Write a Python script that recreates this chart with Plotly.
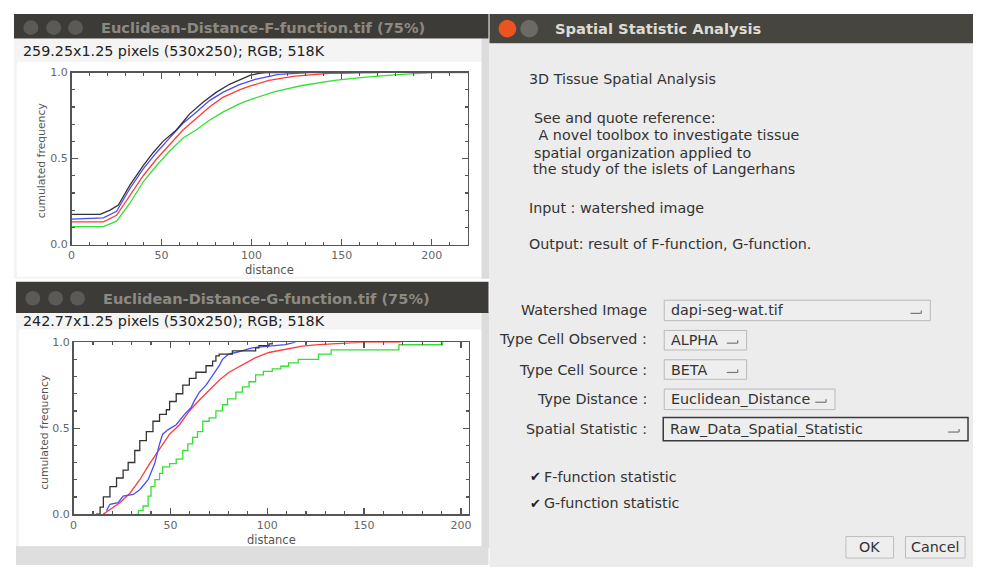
import plotly.graph_objects as go

# ---------------- data ----------------
# F-function (top plot)
f_black_x = [0, 15.8, 21.4, 26, 32.4, 39.8, 45.3, 50.8, 58.2, 65.6, 73, 80.3, 87.7, 93.2, 99.4, 104, 108, 115]
f_black_y = [0.175, 0.175, 0.20, 0.23, 0.345, 0.459, 0.534, 0.60, 0.666, 0.76, 0.828, 0.885, 0.932, 0.955, 0.985, 0.995, 1.0, 1.0]
f_blue_x = [0, 17.7, 25, 32.4, 39.8, 47.1, 54.5, 61.9, 69.2, 76.6, 84, 93.2, 102, 115, 132, 156]
f_blue_y = [0.148, 0.155, 0.193, 0.326, 0.44, 0.534, 0.62, 0.705, 0.77, 0.837, 0.885, 0.93, 0.96, 0.99, 1.0, 1.0]
f_red_x = [0, 17.7, 25, 32.4, 39.8, 47.1, 54.5, 61.9, 69.2, 76.6, 84, 93.2, 98.5, 109.6, 124, 143, 171]
f_red_y = [0.132, 0.132, 0.17, 0.288, 0.40, 0.496, 0.58, 0.666, 0.733, 0.80, 0.856, 0.90, 0.92, 0.955, 0.98, 0.996, 1.0]
f_green_x = [0, 17.7, 25, 32.4, 39.8, 47.1, 54.5, 61.9, 69.2, 76.6, 84, 93.2, 98.5, 113, 128, 146, 165, 183, 202, 220]
f_green_y = [0.104, 0.104, 0.136, 0.24, 0.364, 0.458, 0.544, 0.62, 0.666, 0.723, 0.77, 0.818, 0.84, 0.89, 0.925, 0.955, 0.975, 0.99, 1.0, 1.0]

# G-function (bottom plot)
g_black_x = [11.6, 13.7, 15.4, 18.8, 22.2, 25.6, 28.2, 31.6, 34.2, 37.6, 41, 44.4, 47.9, 49.6, 53, 56.4,
             59.8, 63.2, 68.4, 71.8, 73.5, 75.2, 82, 94, 95.7, 100.9, 102.6]
g_black_y = [0.0, 0.04, 0.10, 0.16, 0.21, 0.256, 0.30, 0.37, 0.427, 0.48, 0.54, 0.58, 0.607, 0.655, 0.70, 0.75,
             0.79, 0.825, 0.863, 0.89, 0.92, 0.93, 0.95, 0.967, 0.98, 0.99, 1.0]
g_blue_x = [17, 18.8, 23, 25.6, 30.8, 34.2, 38.5, 41.9, 44.4, 46, 48.7, 53, 57.3, 60.7, 62.4, 65, 68.4,
            71.8, 75.2, 76.9, 80, 83.8, 92.3, 100.9, 109.4, 114.5]
g_blue_y = [0.02, 0.057, 0.066, 0.104, 0.114, 0.142, 0.20, 0.294, 0.408, 0.465, 0.49, 0.52, 0.58, 0.62, 0.66,
            0.71, 0.75, 0.806, 0.863, 0.90, 0.93, 0.94, 0.967, 0.977, 0.986, 1.0]
g_red_x = [15.4, 18.8, 23.9, 29, 34.2, 39.3, 44.4, 49.6, 54.7, 59.8, 65, 70, 75.2, 80.3, 87.2, 94, 100.9,
           109.4, 118, 126.5, 138.5, 150, 169]
g_red_y = [0.0, 0.028, 0.066, 0.12, 0.2, 0.294, 0.38, 0.465, 0.52, 0.6, 0.664, 0.72, 0.778, 0.825, 0.87, 0.91,
           0.94, 0.958, 0.977, 0.986, 0.995, 1.0, 1.0]
g_green_x = [32.8, 33.5, 35.9, 38.5, 40, 42, 44.4, 46, 49.6, 53, 56.4, 59, 61.5, 64, 66.7, 70, 73.5, 76.9,
             79.5, 83.8, 87.2, 90.6, 94, 98, 102.6, 107, 111, 116, 126.5, 133, 168, 190.5, 191]
g_green_y = [0.0, 0.02, 0.047, 0.104, 0.16, 0.2, 0.237, 0.275, 0.294, 0.32, 0.37, 0.408, 0.446, 0.48, 0.54,
             0.56, 0.6, 0.636, 0.67, 0.71, 0.74, 0.77, 0.81, 0.83, 0.845, 0.86, 0.88, 0.90, 0.93, 0.955, 0.985,
             1.0, 1.0]

x_ticks = [0, 50, 100, 150, 200]
y_ticks = [0.0, 0.5, 1.0]

f_title = "Euclidean-Distance-F-function.tif (75%)"
g_title = "Euclidean-Distance-G-function.tif (75%)"
f_info = "259.25x1.25 pixels (530x250); RGB; 518K"
g_info = "242.77x1.25 pixels (530x250); RGB; 518K"

# ---------------- helpers ----------------
# The page body keeps its default 8px margin on every side; the figure is
# sized so that figure + margins exactly fill the 981x575 window, and all
# positions below are given in window pixels.
OX, OY = 8, 8
W, H = 965, 559
FS = 14.3  # dialog text size


def px(x):
    return (x - OX) / W


def py(y):
    return 1 - (y - OY) / H


shapes = []
annotations = []


def rect(x0, y0, x1, y1, fill, line_color=None, line_width=0):
    shapes.append(dict(type="rect", xref="paper", yref="paper",
                       x0=px(x0), x1=px(x1), y0=py(y1), y1=py(y0),
                       fillcolor=fill, layer="below",
                       line=dict(color=line_color or fill, width=line_width)))


def circle(cx, cy, r, fill):
    shapes.append(dict(type="circle", xref="paper", yref="paper",
                       x0=px(cx - r), x1=px(cx + r), y0=py(cy + r), y1=py(cy - r),
                       fillcolor=fill, layer="above", line=dict(width=0)))


def seg(x0, y0, x1, y1, color, width=1):
    shapes.append(dict(type="line", xref="paper", yref="paper",
                       x0=px(x0), x1=px(x1), y0=py(y0), y1=py(y1),
                       layer="above", line=dict(color=color, width=width)))


def text(x, y, s, size=FS, color="#333333", anchor="left", bold=False,
         family="DejaVu Sans", angle=0):
    annotations.append(dict(xref="paper", yref="paper", x=px(x), y=py(y),
                            text=("<b>%s</b>" % s) if bold else s, showarrow=False,
                            xanchor=anchor, yanchor="middle", textangle=angle,
                            font=dict(size=size, color=color, family=family)))


def dropdown(x0, y0, x1, y1, label, focused=False):
    rect(x0, y0, x1, y1, "#eeeeee", "#3a3a3a" if focused else "#b9b9b9", 1.5 if focused else 1)
    text(x0 + 5, (y0 + y1) / 2, label, size=FS, color="#333333")
    gx = x1 - 20
    gy = (y0 + y1) / 2 + 3
    seg(gx, gy, gx + 11, gy, "#777777", 1.2)
    seg(gx + 11, gy - 3, gx + 11, gy, "#777777", 1.2)


def button(x0, y0, x1, y1, label):
    rect(x0, y0, x1, y1, "#eeeeee", "#bdbdbd", 1)
    text((x0 + x1) / 2, (y0 + y1) / 2, label, size=FS, color="#333333", anchor="center")


# ---------------- window chrome ----------------
bar = "#3c3b37"
# F window
rect(10, 33, 488, 279, "#f4f4f4")
rect(13, 57, 481, 277, "#ffffff")
rect(481, 33, 489, 279, "#dcdcdc")
rect(10, 8, 488, 33, bar)
for cx in (27, 50, 72):
    circle(cx, 22, 7.5, "#5b5a56")
text(96, 22, f_title, size=14.6, color="#8c8981", bold=True)
text(17, 46, f_info, size=14.3, color="#222222")

# G window
rect(12, 313, 488, 555, "#f4f4f4")
rect(15, 331, 481, 553, "#ffffff")
rect(481, 313, 489, 555, "#dcdcdc")
rect(12, 553, 488, 572, "#dedede")
rect(12, 282, 488, 314, bar)
for cx in (29, 52, 74):
    circle(cx, 299, 7.5, "#5b5a56")
text(98, 299, g_title, size=14.6, color="#8c8981", bold=True)
text(17, 322, g_info, size=14.3, color="#222222")

# Dialog
rect(489, 38, 990, 585, "#ececec")
rect(489, 8, 990, 38, "#46453f")
circle(507, 23, 9, "#e95420")
circle(529, 23, 9, "#6b6a65")
text(553, 23, "Spatial Statistic Analysis", size=14.7, color="#dfdbd2", bold=True)

text(527, 75, "3D Tissue Spatial Analysis")
text(532, 114, "See and quote reference:")
text(532, 132, " A novel toolbox to investigate tissue")
text(532, 150, "spatial organization applied to")
text(531, 167, "the study of the islets of Langerhans")
text(527, 207, "Input : watershed image")
text(527, 243, "Output: result of F-function, G-function.")

text(650, 311, "Watershed Image", anchor="right")
text(650, 341, "Type Cell Observed :", anchor="right")
text(650, 372, "Type Cell Source :", anchor="right")
text(650, 402, "Type Distance :", anchor="right")
text(650, 433, "Spatial Statistic :", anchor="right")
dropdown(665, 301, 933, 322, "dapi-seg-wat.tif")
dropdown(665, 332, 748, 352, "ALPHA")
dropdown(665, 362, 748, 382, "BETA")
dropdown(665, 392, 837, 413, "Euclidean_Distance")
dropdown(664, 421, 971, 445, "Raw_Data_Spatial_Statistic", focused=True)

text(528, 482, "✔", size=13, color="#222222")
text(542, 482, "F-function statistic")
text(528, 509, "✔", size=13, color="#222222")
text(542, 509, "G-function statistic")
button(848, 543, 896, 565, "OK")
button(908, 543, 968, 565, "Cancel")

# axis titles
text(38, 158, "cumulated frequency", size=10.8, color="#555555", anchor="center", angle=-90)
text(267, 270, "distance", size=11.5, color="#555555", anchor="center")
text(40, 436, "cumulated frequency", size=10.8, color="#555555", anchor="center", angle=-90)
text(269, 547, "distance", size=11.5, color="#555555", anchor="center")

# ---------------- traces ----------------
fig = go.Figure()


def add(xs, ys, color, shape, xa, ya):
    fig.add_trace(go.Scatter(x=xs, y=ys, mode="lines", xaxis=xa, yaxis=ya,
                             line=dict(color=color, width=1.3, shape=shape),
                             hoverinfo="skip", showlegend=False))


add(f_green_x, f_green_y, "#33e033", "linear", "x", "y")
add(f_red_x, f_red_y, "#ff3a3a", "linear", "x", "y")
add(f_blue_x, f_blue_y, "#4a4aff", "linear", "x", "y")
add(f_black_x, f_black_y, "#333333", "linear", "x", "y")

add(g_green_x, g_green_y, "#33e033", "hv", "x2", "y2")
add(g_red_x, g_red_y, "#ff3a3a", "linear", "x2", "y2")
add(g_blue_x, g_blue_y, "#4a4aff", "linear", "x2", "y2")
add(g_black_x, g_black_y, "#333333", "hv", "x2", "y2")

axis_common = dict(showline=True, linecolor="#555555", linewidth=1.5, mirror="ticks",
                   ticks="inside", ticklen=6, tickwidth=1.2, tickcolor="#555555",
                   showgrid=False, zeroline=False, fixedrange=True,
                   tickfont=dict(size=11, color="#666666", family="DejaVu Sans"))

fig.update_layout(
    width=W, height=H, autosize=False,
    margin=dict(l=0, r=0, t=0, b=0, pad=0),
    paper_bgcolor="#ffffff", plot_bgcolor="rgba(0,0,0,0)",
    xaxis=dict(domain=[px(68), px(467)], range=[0, 220], anchor="y",
               tickvals=x_ticks, minor=dict(dtick=10, ticks="inside", ticklen=3, tickcolor="#555555"),
               **axis_common),
    yaxis=dict(domain=[py(244), py(68)], range=[0, 1], anchor="x",
               tickvals=y_ticks, tickformat=".1f",
               minor=dict(dtick=0.1, ticks="inside", ticklen=3, tickcolor="#555555"),
               **axis_common),
    xaxis2=dict(domain=[px(70), px(468)], range=[0, 204], anchor="y2",
                tickvals=x_ticks, minor=dict(dtick=10, ticks="inside", ticklen=3, tickcolor="#555555"),
                **axis_common),
    yaxis2=dict(domain=[py(520), py(344)], range=[0, 1], anchor="x2",
                tickvals=y_ticks, tickformat=".1f",
                minor=dict(dtick=0.1, ticks="inside", ticklen=3, tickcolor="#555555"),
                **axis_common),
    shapes=shapes,
    annotations=annotations,
)

fig.write_html("out.html", config=dict(displayModeBar=False, staticPlot=True))
